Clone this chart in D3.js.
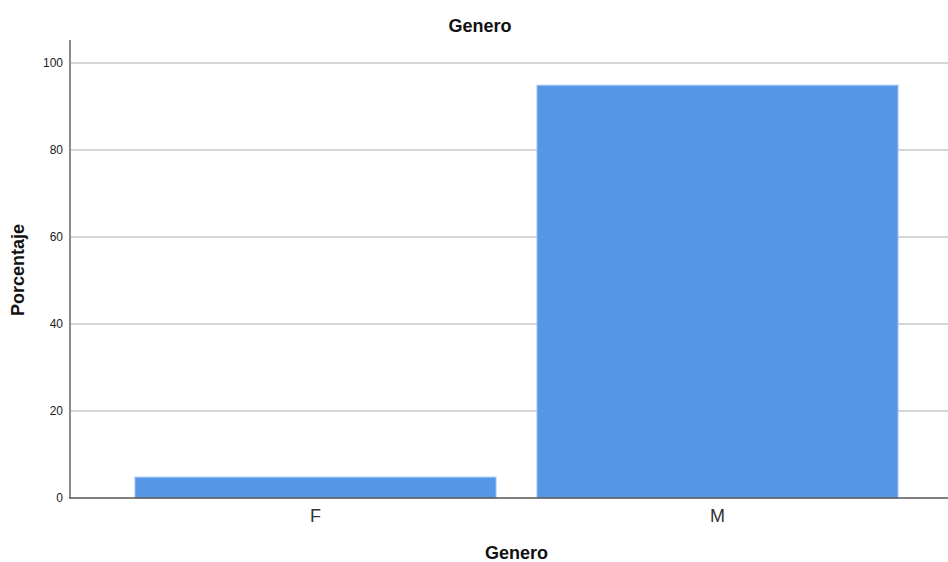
<!DOCTYPE html>
<html><head><meta charset="utf-8">
<script src="https://cdn.jsdelivr.net/npm/d3@7"></script>
<style>body{margin:0;background:#fff}svg{display:block;font-family:"Liberation Sans",Arial,sans-serif}</style>
</head><body><div id="chart"></div>
<script>
const categories = ["F", "M"];
const values = [4.8, 94.9];
const yTicks = [0, 20, 40, 60, 80, 100];
const title = "Genero";
const xTitle = "Genero";
const yTitle = "Porcentaje";

const W = 948, H = 562;
const svg = d3.select("#chart").append("svg").attr("width", W).attr("height", H);
const plotL = 70, plotR = 948, plotT = 40, plotB = 498;

const y = d3.scaleLinear().domain([0, 105.3]).range([plotB, plotT]);
const x = d3.scaleBand().domain(categories).range([114.5, 918.5]).paddingInner(41/402).paddingOuter(20.5/402);

// grid
svg.append("g").selectAll("line").data(yTicks.filter(d => d > 0)).join("line")
  .attr("x1", plotL).attr("x2", plotR).attr("y1", d => y(d)).attr("y2", d => y(d))
  .attr("stroke", "#d6d6d6").attr("stroke-width", 2);

// bars
svg.append("g").selectAll("rect").data(categories).join("rect")
  .attr("x", d => x(d)).attr("width", x.bandwidth())
  .attr("y", (d, i) => y(values[i])).attr("height", (d, i) => plotB - y(values[i]))
  .attr("fill", "#5596e6").attr("stroke", "#9cc2f2").attr("stroke-width", 1);

// y axis
const yAxis = d3.axisLeft(y).tickValues(yTicks).tickSize(0).tickPadding(7);
const gy = svg.append("g").attr("transform", `translate(${plotL},0)`).call(yAxis);
gy.select(".domain").remove();
gy.selectAll("text").attr("font-size", 12).attr("fill", "#222").attr("font-family", "Liberation Sans, Arial, sans-serif");
svg.append("line").attr("x1", plotL).attr("x2", plotL).attr("y1", plotT).attr("y2", plotB)
  .attr("stroke", "#8c8c8c").attr("stroke-width", 2);

// x axis
const xAxis = d3.axisBottom(x).tickSize(0).tickPadding(11);
const gx = svg.append("g").attr("transform", `translate(0,${plotB})`).call(xAxis);
gx.select(".domain").remove();
gx.selectAll("text").attr("font-size", 18).attr("fill", "#333").attr("font-family", "Liberation Sans, Arial, sans-serif");
svg.append("line").attr("x1", plotL - 1).attr("x2", plotR).attr("y1", plotB).attr("y2", plotB)
  .attr("stroke", "#555").attr("stroke-width", 1.5);

// titles
svg.append("text").attr("x", 480).attr("y", 32).attr("text-anchor", "middle")
  .attr("font-size", 18).attr("font-weight", "bold").attr("fill", "#111").text(title);
svg.append("text").attr("x", 516.5).attr("y", 559).attr("text-anchor", "middle")
  .attr("font-size", 18).attr("font-weight", "bold").attr("fill", "#111").text(xTitle);
svg.append("text").attr("transform", "translate(24,270) rotate(-90)").attr("text-anchor", "middle")
  .attr("font-size", 18).attr("font-weight", "bold").attr("fill", "#111").text(yTitle);
</script></body></html>
